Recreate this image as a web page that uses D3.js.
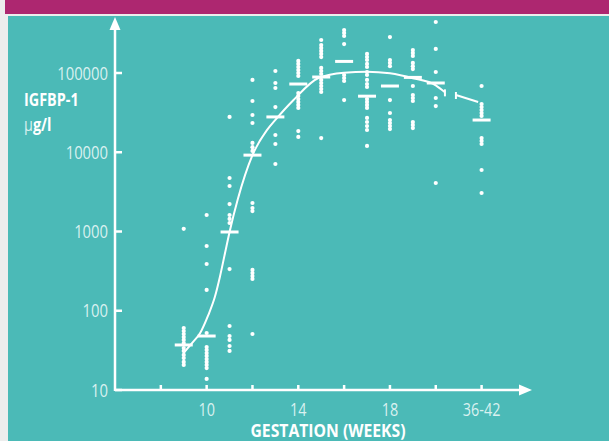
<!DOCTYPE html>
<html>
<head>
<meta charset="utf-8">
<script src="https://cdn.jsdelivr.net/npm/d3@7"></script>
<style>
  body { margin: 0; background: #ededed; }
  svg { display: block; }
  text { font-family: "Open Sans", sans-serif; }
</style>
</head>
<body>
<svg width="609" height="441"></svg>
<script>
// gestation columns and where they sit on the week axis (36-42 is put after week 20)
var columns = ['9', '10', '11', '12', '13', '14', '15', '16', '17', '18', '19', '20', '36-42'];
var columnWeek = [9, 10, 11, 12, 13, 14, 15, 16, 17, 18, 19, 20, 22];

// individual IGFBP-1 values (ug/l) per column
var samples = [
  [1080, 60.6, 55.5, 50.9, 46.6, 42.8, 39.2, 33.9, 31.1, 27.7, 25.3, 22.6, 20.7],
  [1616, 656, 389, 183, 52.4, 34.9, 32, 29.3, 26.9, 24.6, 22.6, 20.7, 18.9, 13.8],
  [27900, 4730, 3750, 2220, 1616, 1440, 1280, 336, 64.2, 48, 42.8, 35.9, 31.1],
  [81700, 44300, 29500, 23400, 13100, 11600, 10400, 2290, 1980, 1810, 327, 299, 274, 252, 50.9],
  [106000, 74800, 64700, 37200, 16500, 12700, 7110],
  [142000, 130000, 119000, 109000, 100000, 91600, 55900, 51300, 47000, 43100, 39500, 36200, 18500, 15600],
  [261000, 225000, 207000, 190000, 174000, 159000, 116000, 106000, 97100, 81700, 74800, 68500, 62800, 57600, 15100],
  [349000, 320000, 293000, 232000, 94400, 86500, 79300, 45600],
  [174000, 159000, 146000, 130000, 119000, 103000, 94400, 81700, 72600, 66600, 47000, 43100, 39500, 36200, 27100, 24100, 21400, 19100, 12000],
  [284000, 146000, 134000, 122000, 45600, 31300, 25500, 23400, 21400, 19600],
  [195000, 179000, 164000, 134000, 122000, 112000, 68500, 52800, 48400, 44300, 24100, 22100, 20200],
  [440000, 201000, 103000, 48400, 38300, 4090],
  [68500, 40600, 37200, 34100, 31300, 28700, 15100, 13900, 12700, 5970, 3060]
];

// median per column
var medians = [37, 48, 986, 9200, 27900, 72600, 89000, 140000, 51000, 68500, 88000, 74800, 25500];

// fitted curve (week, value) and the short piece leading to term
var curveMain = [[8.98, 29], [9.35, 38.8], [9.71, 52], [10.07, 88], [10.36, 150], [10.58, 269],
  [10.8, 531], [11.02, 1045], [11.35, 2500], [12, 9200], [12.63, 19000], [13, 25600], [13.77, 45000],
  [14.9, 87000], [16, 101000], [17, 104000], [18, 99000], [19, 86000], [20, 70000], [20.4, 57000]];
var curveTerm = [[20.88, 52800], [21.85, 43000]];

var yTicks = [10, 100, 1000, 10000, 100000];
var xTicks = [8, 10, 12, 14, 16, 18, 20, 22];
var xLabels = {10: '10', 14: '14', 18: '18', 22: '36-42'};

var svg = d3.select('svg');
var white = '#ffffff';
var pale = '#d9f1f0';

// narrow text: the original face is condensed, so squeeze horizontally
function label(px, py, txt, size, weight, anchor, fill, sx) {
  var g = svg.append('g').attr('transform', 'translate(' + px + ',' + py + ') scale(' + (sx || 0.8) + ',1)');
  return g.append('text').attr('text-anchor', anchor).attr('font-size', size)
    .attr('font-weight', weight).attr('fill', fill).text(txt);
}

// page frame
svg.append('rect').attr('x', 5).attr('y', 0).attr('width', 604).attr('height', 14).attr('fill', '#ad2770');
svg.append('rect').attr('x', 8).attr('y', 16).attr('width', 601).attr('height', 425).attr('fill', '#4bbab7');

var x = d3.scaleLinear().domain([6, 24.2]).range([115, 532]);
var y = d3.scaleLog().domain([10, 100000]).range([390, 73]);

// axes
svg.append('line').attr('x1', x(6)).attr('x2', x(24.2) - 10).attr('y1', y(10)).attr('y2', y(10))
  .attr('stroke', white).attr('stroke-width', 2.5);
svg.append('line').attr('x1', x(6)).attr('x2', x(6)).attr('y1', y(10) + 1).attr('y2', 28)
  .attr('stroke', white).attr('stroke-width', 2.5);
svg.append('path').attr('fill', white)
  .attr('d', 'M' + x(24.2) + ',' + y(10) + 'l-13,-5.5v11z');
svg.append('path').attr('fill', white)
  .attr('d', 'M' + x(6) + ',17l-5.5,13h11z');

svg.selectAll('.ytick').data(yTicks).enter().append('line')
  .attr('x1', x(6)).attr('x2', x(6) + 7)
  .attr('y1', d => y(d)).attr('y2', d => y(d))
  .attr('stroke', white).attr('stroke-width', 2.5);
yTicks.forEach(function(d) {
  label(108, y(d) + 6.5, d, 18.5, 'normal', 'end', pale);
});

svg.selectAll('.xtick').data(xTicks).enter().append('line')
  .attr('x1', d => x(d)).attr('x2', d => x(d))
  .attr('y1', y(10)).attr('y2', y(10) - 5)
  .attr('stroke', white).attr('stroke-width', 2.5);
Object.keys(xLabels).forEach(function(d) {
  label(x(+d), 416, xLabels[d], 18, 'normal', 'middle', pale);
});

label(328, 437, 'GESTATION (WEEKS)', 17.5, 'bold', 'middle', white, 0.9);
label(24, 106, 'IGFBP-1', 18, 'bold', 'start', white);
var unit = label(24, 131, '', 18, 'bold', 'start', white);
unit.append('tspan').attr('fill', pale).attr('font-weight', 'normal').text('µ');
unit.append('tspan').text('g/l');

// sample dots
columns.forEach(function(c, i) {
  svg.selectAll('.dot' + i).data(samples[i]).enter().append('circle')
    .attr('cx', x(columnWeek[i])).attr('cy', d => y(d)).attr('r', 2.1)
    .attr('fill', white);
});

// medians
svg.selectAll('.median').data(medians).enter().append('line')
  .attr('x1', (d, i) => x(columnWeek[i]) - 9).attr('x2', (d, i) => x(columnWeek[i]) + 9)
  .attr('y1', d => y(d)).attr('y2', d => y(d))
  .attr('stroke', white).attr('stroke-width', 3);

// fitted curve
var line = d3.line().x(d => x(d[0])).y(d => y(d[1])).curve(d3.curveMonotoneX);
svg.append('path').attr('d', line(curveMain)).attr('fill', 'none')
  .attr('stroke', white).attr('stroke-width', 2);
svg.append('path').attr('d', line(curveTerm)).attr('fill', 'none')
  .attr('stroke', white).attr('stroke-width', 2);

// end serifs on the curve pieces
var ends = [curveMain[curveMain.length - 1], curveTerm[0]];
svg.selectAll('.serif').data(ends).enter().append('line')
  .attr('x1', d => x(d[0])).attr('x2', d => x(d[0]))
  .attr('y1', d => y(d[1]) - 3).attr('y2', d => y(d[1]) + 4)
  .attr('stroke', white).attr('stroke-width', 2);
</script>
</body>
</html>
